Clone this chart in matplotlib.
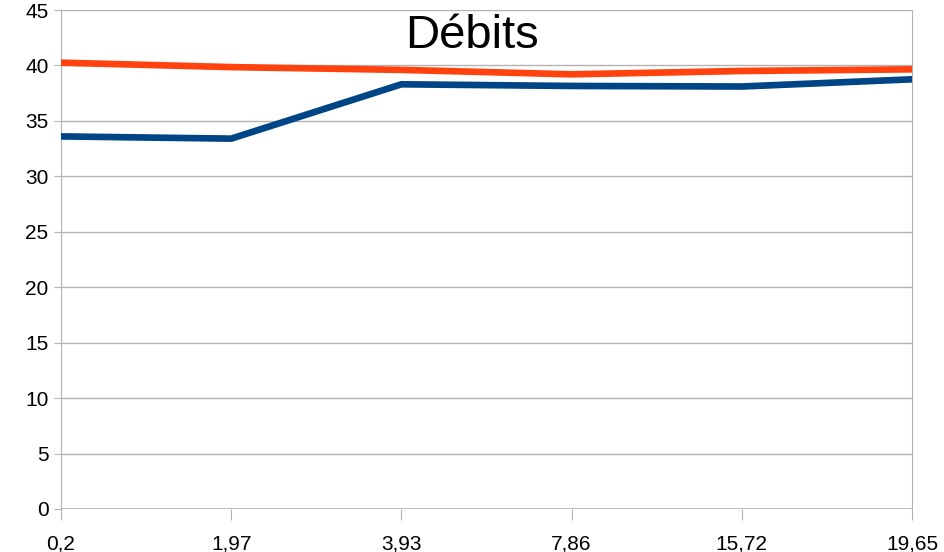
import matplotlib.pyplot as plt

# débits mesurés pour chaque valeur de l'axe x
x_labels = ['0,2', '1,97', '3,93', '7,86', '15,72', '19,65']
debit_rouge = [40.25, 39.85, 39.6, 39.2, 39.5, 39.65]
debit_bleu = [33.6, 33.4, 38.3, 38.15, 38.1, 38.75]

plt.rcParams['font.family'] = ['Liberation Sans', 'DejaVu Sans']

fig = plt.figure(figsize=(9.44, 5.52), dpi=100)
ax = fig.add_axes([61 / 944, 43 / 552, 851 / 944, 499 / 552])

pos = list(range(len(x_labels)))
ax.plot(pos, debit_rouge, color='#ff420e', lw=4.8, solid_joinstyle='miter', zorder=3)
ax.plot(pos, debit_bleu, color='#004586', lw=4.8, solid_joinstyle='miter', zorder=3)

ax.set_xlim(0, len(x_labels) - 1)
ax.set_ylim(0, 45)
ax.set_yticks(range(0, 46, 5))
ax.set_xticks(pos)
ax.set_xticklabels(x_labels)

ax.grid(axis='y', color='#b3b3b3', lw=1)
for s in ['top', 'bottom']:
    ax.spines[s].set_visible(False)
for s in ['left', 'right']:
    ax.spines[s].set_color('#b3b3b3')
ax.axhline(0, color='#b3b3b3', lw=1.2)

ax.tick_params(axis='x', length=8, color='#b3b3b3', labelsize=15, pad=10)
ax.tick_params(axis='y', length=5, color='#b3b3b3', labelsize=15, pad=4)

# titre centré sur la figure entière
fig.text(0.5, 1 - 48 / 552, 'Débits', ha='center', va='baseline', fontsize=34)

fig.savefig('out.png', dpi=100)
